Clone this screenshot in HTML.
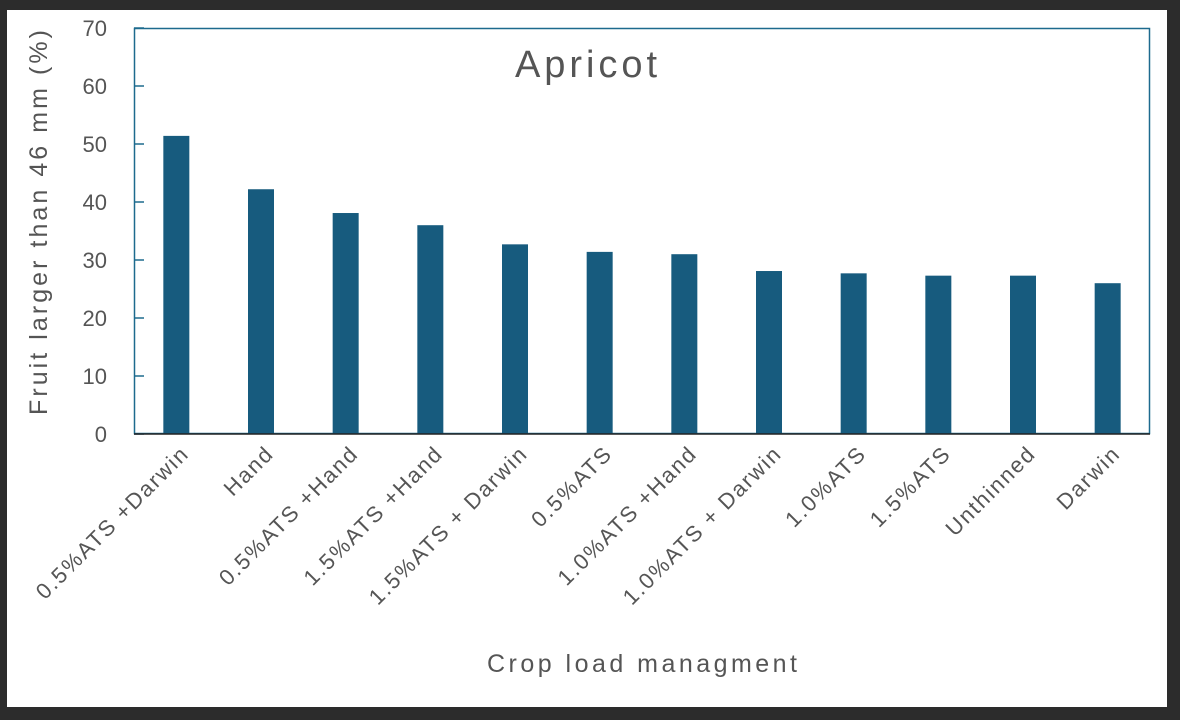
<!DOCTYPE html>
<html><head><meta charset="utf-8"><style>
html,body{margin:0;padding:0;background:#2c2c2c;}
svg{display:block;font-family:"Liberation Sans",sans-serif;}
</style></head><body>
<svg width="1180" height="720">
<rect x="7" y="10" width="1160" height="697" fill="#fff"/>
<rect x="134.5" y="28.5" width="1015" height="405" fill="none" stroke="#1d6a8e" stroke-width="1.5"/>
<g id="bars"></g><g id="yt"></g><g id="xt"></g>
<line x1="134" y1="434" x2="1150" y2="434" stroke="#222" stroke-width="1.5"/>
<text x="515" y="77" font-size="38" fill="#555" textLength="142" lengthAdjust="spacing">Apricot</text>
<text x="487" y="672" font-size="25" fill="#555" textLength="310" lengthAdjust="spacing">Crop load managment</text>
<text transform="translate(47,415) rotate(-90)" font-size="25" fill="#555" textLength="385" lengthAdjust="spacing">Fruit larger than 46 mm (%)</text>
</svg>
<script>
const categories=["0.5%ATS +Darwin","Hand","0.5%ATS +Hand","1.5%ATS +Hand","1.5%ATS + Darwin","0.5%ATS","1.0%ATS +Hand","1.0%ATS + Darwin","1.0%ATS","1.5%ATS","Unthinned","Darwin"];
const values=[51.4,42.2,38.1,36,32.7,31.4,31,28.1,27.7,27.3,27.3,26];
const yTicks=[0,10,20,30,40,50,60,70];
const NS="http://www.w3.org/2000/svg";
const x0=134,x1=1150,y0=434,y1=28,ymax=70;
const band=(x1-x0)/categories.length;
const y=v=>y0-(v/ymax)*(y0-y1);
const xc=i=>x0+band*(i+0.5);
const bars=document.getElementById('bars'),yt=document.getElementById('yt'),xt=document.getElementById('xt');
values.forEach((v,i)=>{
const r=document.createElementNS(NS,'rect');


r.setAttribute('x',xc(i)-13);r.setAttribute('y',y(v));r.setAttribute('width',26);r.setAttribute('height',y0-y(v));r.setAttribute('fill','#175b7e');
bars.appendChild(r);
});
yTicks.forEach(t=>{
const l=document.createElementNS(NS,'line');


l.setAttribute('x1',x0);l.setAttribute('x2',x0+10);l.setAttribute('y1',y(t));l.setAttribute('y2',y(t));l.setAttribute('stroke','#1d6a8e');l.setAttribute('stroke-width',1.5);
yt.appendChild(l);
const s=document.createElementNS(NS,'text');


s.setAttribute('x',107);s.setAttribute('y',y(t)+8);s.setAttribute('font-size',22);s.setAttribute('fill','#555');s.setAttribute('text-anchor','end');
s.textContent=t;yt.appendChild(s);
});
categories.forEach((c,i)=>{
const s=document.createElementNS(NS,'text');


const tx=xc(i)+14,ty=455;
s.setAttribute('transform','translate('+tx+','+ty+') rotate(-45)');
s.setAttribute('font-size',22);s.setAttribute('fill','#555');s.setAttribute('text-anchor','end');s.setAttribute('letter-spacing','1.8');
s.textContent=c;xt.appendChild(s);
});
</script>
</body></html>
